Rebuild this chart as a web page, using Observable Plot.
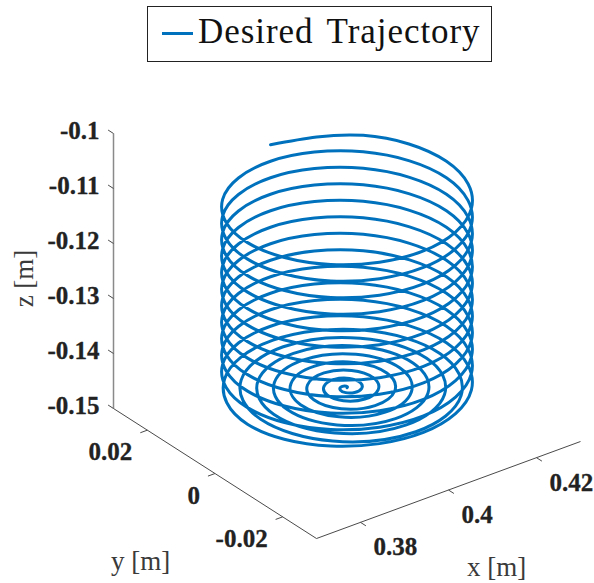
<!DOCTYPE html>
<html>
<head>
<meta charset="utf-8">
<script src="https://cdn.jsdelivr.net/npm/d3@7"></script>
<script src="https://cdn.jsdelivr.net/npm/@observablehq/plot@0.6"></script>
<style>
html,body{margin:0;padding:0;background:#fff}
#fig{position:relative;width:594px;height:583px;overflow:hidden}
#legend{height:70px;position:relative}
#box{position:absolute;left:147px;top:6px;width:343px;height:54px;border:1.5px solid #222;background:#fff}
#swatch{position:absolute;left:14px;top:24.5px;width:31px;height:3px;background:#0072BD}
#lab{position:absolute;left:50px;top:3px;font:35px "Liberation Serif",serif;letter-spacing:.95px;word-spacing:4px;color:#111;white-space:nowrap;line-height:44px}
svg{display:block}
</style>
</head>
<body>
<div id="fig">
<div id="legend"><div id="box"><div id="swatch"></div><div id="lab">Desired Trajectory</div></div></div>
</div>
<script>
const seriesName = "Desired Trajectory";
const xLim = [0.37, 0.43];
const yLim = [-0.03, 0.03];
const zLim = [-0.15, -0.10];
const xTicks = [0.38, 0.40, 0.42];
const yTicks = [-0.02, 0, 0.02];
const zTicks = [-0.15, -0.14, -0.13, -0.12, -0.11, -0.10];
const xTickLabels = ["0.38", "0.4", "0.42"];
const yTickLabels = ["-0.02", "0", "0.02"];
const zTickLabels = ["-0.15", "-0.14", "-0.13", "-0.12", "-0.11", "-0.1"];

// Trajectory waypoints: flat spiral, then the helix.
const trajX = [
 .40000,.40027,.40000,.39920,.39849,.39867,.40000,.40187,
 .40302,.40240,.40000,.39707,.39548,.39653,.40000,.40400,
 .40603,.40453,.40000,.39494,.39246,.39440,.40000,.40613,
 .40905,.40666,.40000,.39280,.38944,.39227,.40000,.40826,
 .41206,.40880,.40000,.39067,.38643,.39014,.40000,.41040,
 .41508,.41093,.40000,.38854,.38341,.38800,.40000,.41253,
 .41810,.41306,.40000,.38640,.38040,.38587,.40000,.41466,
 .42111,.41520,.40000,.38427,.37738,
 .38402,.40000,.41598,.42260,.41598,.40000,.38402,.37740,
 .38402,.40000,.41598,.42260,.41598,.40000,.38402,.37740,
 .38402,.40000,.41598,.42260,.41598,.40000,.38402,.37740,
 .38402,.40000,.41598,.42260,.41598,.40000,.38402,.37740,
 .38402,.40000,.41598,.42260,.41598,.40000,.38402,.37740,
 .38402,.40000,.41598,.42260,.41598,.40000,.38402,.37740,
 .38402,.40000,.41598,.42260,.41598,.40000,.38402,.37740,
 .38402,.40000,.41598,.42260,.41598,.40000,.38402,.37740,
 .38402,.40000,.41598,.42260,.41598,.40000,.38402,.37740,
 .38402,.40000,.41598,.42260,.41598,.40000,.38402,.37740,
 .38402,.40000,.41598,.42260,.41598,.40000,.38402,.37740,
 .38402,.40000,.41598,.42260,.41598,.40000
];
const trajY = [
 0,.00027,.00075,.00080,0,-.00133,-.00226,-.00187,
 0,.00240,.00377,.00293,0,-.00347,-.00528,-.00400,
 0,.00453,.00679,.00507,0,-.00560,-.00829,-.00613,
 0,.00666,.00980,.00720,0,-.00773,-.01131,-.00826,
 0,.00880,.01282,.00933,0,-.00986,-.01433,-.01040,
 0,.01093,.01583,.01146,0,-.01200,-.01734,-.01253,
 0,.01306,.01885,.01360,0,-.01413,-.02036,-.01466,
 0,.01520,.02187,.01573,0,
 -.01598,-.02260,-.01598,0,.01598,.02260,.01598,0,
 -.01598,-.02260,-.01598,0,.01598,.02260,.01598,0,
 -.01598,-.02260,-.01598,0,.01598,.02260,.01598,0,
 -.01598,-.02260,-.01598,0,.01598,.02260,.01598,0,
 -.01598,-.02260,-.01598,0,.01598,.02260,.01598,0,
 -.01598,-.02260,-.01598,0,.01598,.02260,.01598,0,
 -.01598,-.02260,-.01598,0,.01598,.02260,.01598,0,
 -.01598,-.02260,-.01598,0,.01598,.02260,.01598,0,
 -.01598,-.02260,-.01598,0,.01598,.02260,.01598,0,
 -.01598,-.02260,-.01598,0,.01598,.02260,.01598,0,
 -.01598,-.02260,-.01598,0,.01598,.02260,.01598,0,
 -.01598,-.02260,-.01598,0,.01598,.02260
];
const trajZ = [
 -.1432,-.1432,-.1432,-.1432,-.1432,-.1432,-.1432,-.1432,
 -.1432,-.1432,-.1432,-.1432,-.1432,-.1432,-.1432,-.1432,
 -.1432,-.1432,-.1432,-.1432,-.1432,-.1432,-.1432,-.1432,
 -.1432,-.1432,-.1432,-.1432,-.1432,-.1432,-.1432,-.1432,
 -.1432,-.1432,-.1432,-.1432,-.1432,-.1432,-.1432,-.1432,
 -.1432,-.1432,-.1432,-.1432,-.1432,-.1432,-.1432,-.1432,
 -.1432,-.1432,-.1432,-.1432,-.1432,-.1432,-.1432,-.1432,
 -.1432,-.1432,-.1432,-.1432,-.1432,
 -.14283,-.14245,-.14208,-.14170,-.14133,-.14095,-.14058,-.14020,
 -.13983,-.13945,-.13908,-.13870,-.13833,-.13795,-.13758,-.13720,
 -.13683,-.13645,-.13608,-.13570,-.13533,-.13495,-.13458,-.13420,
 -.13383,-.13345,-.13308,-.13270,-.13233,-.13195,-.13158,-.13120,
 -.13083,-.13045,-.13008,-.12970,-.12933,-.12895,-.12858,-.12820,
 -.12783,-.12745,-.12708,-.12670,-.12633,-.12595,-.12558,-.12520,
 -.12483,-.12445,-.12408,-.12370,-.12333,-.12295,-.12258,-.12220,
 -.12183,-.12145,-.12108,-.12070,-.12033,-.11995,-.11958,-.11920,
 -.11883,-.11845,-.11808,-.11770,-.11733,-.11695,-.11658,-.11620,
 -.11583,-.11545,-.11508,-.11470,-.11433,-.11395,-.11358,-.11320,
 -.11283,-.11245,-.11208,-.11170,-.11133,-.11095,-.11058,-.11020,
 -.10983,-.10945,-.10908,-.10870,-.10833,-.10795
];

// Orthographic view used by the figure (data metres to view units).
const projX = (x, y) => 346.5 + 4400 * (x - 0.4) - 3383 * y;
const projY = (x, y, z) => 424.5 - 1617 * (x - 0.4) - 2167 * y - 5500 * (z + 0.15);
const P = (x, y, z) => ({vx: projX(x, y), vy: projY(x, y, z)});

const path = trajX.map((x, i) => P(x, trajY[i], trajZ[i]));
const tickLen = 0.0016;
const seg = (a, b) => ({x1: a.vx, y1: a.vy, x2: b.vx, y2: b.vy});

const floorAxes = [
  seg(P(xLim[0], yLim[1], zLim[0]), P(xLim[0], yLim[0], zLim[0])),
  seg(P(xLim[0], yLim[0], zLim[0]), P(xLim[1], yLim[0], zLim[0]))
];
const zAxis = [seg(P(xLim[0], yLim[1], zLim[0]), P(xLim[0], yLim[1], zLim[1]))];
const tickSegs = [
  ...xTicks.map(v => seg(P(v, yLim[0], zLim[0]), P(v, yLim[0] - tickLen, zLim[0]))),
  ...yTicks.map(v => seg(P(xLim[0], v, zLim[0]), P(xLim[0] - tickLen, v, zLim[0]))),
  ...zTicks.map(v => seg(P(xLim[0], yLim[1], v), P(xLim[0], yLim[1] + tickLen, v)))
];
const xLabels = xTicks.map((v, i) => ({...P(v, yLim[0], zLim[0]), t: xTickLabels[i]}));
const yLabels = yTicks.map((v, i) => ({...P(xLim[0], v, zLim[0]), t: yTickLabels[i]}));
const zLabels = zTicks.map((v, i) => ({...P(xLim[0], yLim[1], v), t: zTickLabels[i]}));

const tickFont = {fontFamily: "Liberation Serif", fontWeight: "bold", fontSize: 25, fill: "#222", stroke: "#222", strokeWidth: 0.3};
const titleFont = {fontFamily: "Liberation Serif", fontSize: 27, fill: "#3a3a3a", style: "letter-spacing:1px;word-spacing:5px"};

const chart = Plot.plot({
  width: 594,
  height: 513,
  margin: 0,
  style: {background: "#fff"},
  x: {domain: [0, 594], range: [0, 594], axis: null},
  y: {domain: [70, 583], range: [0, 513], axis: null},
  marks: [
    Plot.link(zAxis, {x1: "x1", y1: "y1", x2: "x2", y2: "y2", stroke: "#8a8a8a", strokeWidth: 1.5}),
    Plot.link(floorAxes, {x1: "x1", y1: "y1", x2: "x2", y2: "y2", stroke: "#4a4a4a", strokeWidth: 1}),
    Plot.link(tickSegs, {x1: "x1", y1: "y1", x2: "x2", y2: "y2", stroke: "#4a4a4a", strokeWidth: 1}),
    Plot.line(path, {x: "vx", y: "vy", stroke: "#0072BD", strokeWidth: 3, curve: "natural", strokeLinejoin: "round"}),
    Plot.text(zLabels, {x: "vx", y: "vy", text: "t", textAnchor: "end", dx: -14, dy: -3, ...tickFont}),
    Plot.text(yLabels, {x: "vx", y: "vy", text: "t", textAnchor: "end", dx: -15, dy: 22, ...tickFont}),
    Plot.text(xLabels, {x: "vx", y: "vy", text: "t", textAnchor: "start", dx: 13, dy: 25, ...tickFont}),
    Plot.text(["x [m]"], {x: 496, y: 567, text: d => d, ...titleFont}),
    Plot.text(["y [m]"], {x: 140, y: 561, text: d => d, ...titleFont}),
    Plot.text(["z [m]"], {x: 24, y: 278, text: d => d, rotate: -90, ...titleFont})
  ]
});
document.getElementById("fig").appendChild(chart);
</script>
</body>
</html>
